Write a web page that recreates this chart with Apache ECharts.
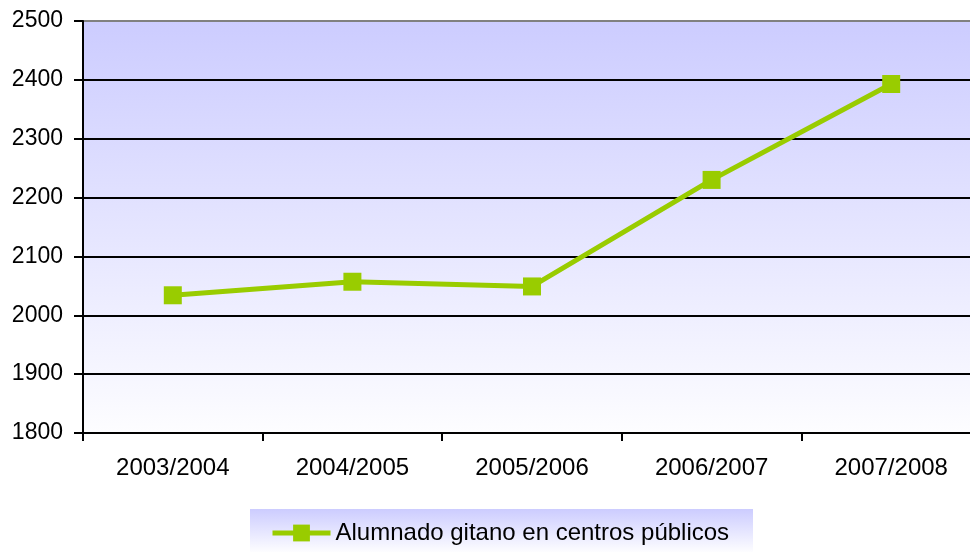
<!DOCTYPE html>
<html>
<head>
<meta charset="utf-8">
<script src="https://cdn.jsdelivr.net/npm/echarts@6/dist/echarts.min.js"></script>
<style>
  html, body { margin: 0; padding: 0; background: #fff; overflow: hidden; }
  /* el area de trazado sigue un poco mas alla del borde derecho de la ventana */
  #chart { width: 981px; height: 552px; }
</style>
</head>
<body>
<div id="chart"></div>
<script>
  // datos
  var cursos = ['2003/2004', '2004/2005', '2005/2006', '2006/2007', '2007/2008'];
  var alumnado = [2034, 2057, 2049, 2230, 2393];
  var serieNombre = 'Alumnado gitano en centros públicos';

  var chart = echarts.init(document.getElementById('chart'));

  // degradado azul -> blanco (fondo del grafico y de la leyenda)
  function degradado() {
    return new echarts.graphic.LinearGradient(0, 0, 0, 1, [
      { offset: 0, color: '#ccccff' },
      { offset: 1, color: '#fdfdff' }
    ]);
  }

  var option = {
    animation: false,
    textStyle: { fontFamily: 'Liberation Sans, Arial, sans-serif' },
    grid: {
      left: 83, right: 0, top: 21, bottom: 119,
      show: true,
      borderWidth: 0,
      backgroundColor: degradado()
    },
    // fondo de la leyenda
    graphic: [{
      type: 'rect',
      left: 250, top: 509,
      shape: { width: 503, height: 43 },
      style: { fill: degradado() },
      z: -1
    }],
    legend: {
      data: [serieNombre],
      left: 265, top: 516,
      itemWidth: 58, itemHeight: 21,
      lineStyle: { width: 5 },
      textStyle: { fontSize: 24, color: '#000', fontFamily: 'Liberation Sans, Arial, sans-serif' }
    },
    xAxis: {
      type: 'category',
      data: cursos,
      boundaryGap: true,
      axisLine: { lineStyle: { color: '#000', width: 2 } },
      axisTick: { show: true, length: 8, lineStyle: { color: '#000', width: 2 } },
      axisLabel: { fontSize: 24, color: '#000', margin: 23 }
    },
    yAxis: {
      type: 'value',
      min: 1800, max: 2500, interval: 100,
      axisLine: { show: true, lineStyle: { color: '#000', width: 2 } },
      axisTick: { show: true, length: 9, lineStyle: { color: '#000', width: 2 } },
      axisLabel: {
        fontSize: 23, color: '#000', margin: 20,
        formatter: function (v) { return String(v); }
      },
      splitLine: {
        show: true,
        lineStyle: {
          color: ['#000', '#000', '#000', '#000', '#000', '#000', '#000', '#808080'],
          width: 2
        }
      }
    },
    series: [{
      name: serieNombre,
      type: 'line',
      data: alumnado,
      symbol: 'rect',
      symbolSize: 18,
      color: '#99cc00',
      lineStyle: { color: '#99cc00', width: 5 },
      itemStyle: { color: '#99cc00' }
    }]
  };

  chart.setOption(option);
</script>
</body>
</html>
